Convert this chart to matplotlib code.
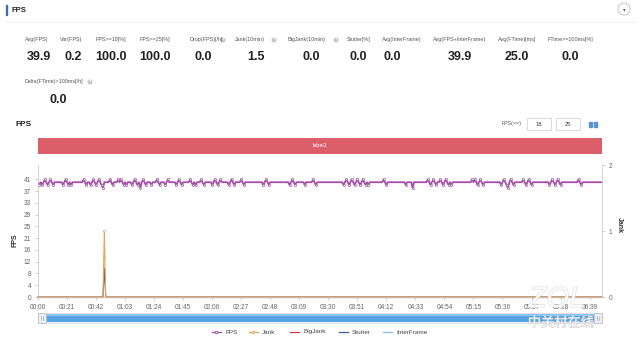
import numpy as np
import matplotlib.pyplot as plt
from matplotlib.patches import Rectangle, Circle
import matplotlib.patheffects as pe

plt.rcParams['font.family'] = ['Liberation Sans', 'DejaVu Sans']

W, H = 640, 340

# ---- summary numbers ----
stat_names = ['Avg(FPS)', 'Var(FPS)', 'FPS>=18[%]', 'FPS>=25[%]', 'Drop(FPS)[/h]',
              'Jank(10min)', 'BigJank(10min)', 'Stutter[%]', 'Avg(InterFrame)',
              'Avg(FPS+InterFrame)', 'Avg(FTime)[ms]', 'FTime>=100ms[%]']
stat_values = ['39.9', '0.2', '100.0', '100.0', '0.0', '1.5', '0.0', '0.0', '0.0',
               '39.9', '25.0', '0.0']
extra_name = 'Delta(FTime)>100ms[/h]'
extra_value = '0.0'

# ---- FPS per second: '-'=40, 'u'=41, 'd'=39, 'D'=38 ----
fps_levels = {'-': 40, 'u': 41, 'd': 39, 'D': 38}
fps_pattern = [
    "-d-d-u-d-u-d------d-u",
    "-d-d--------u-d--d-u-",
    "d-u-dD----u-d---u-u-d",
    "-d---d-u-d-D-u-d---d-",
    "--u-d---d-u-----d-u-d",
    "-----u-d-d---u-d-----",
    "d-u-d-u-----d-u-d----",
    "u-d-------------d-u-d",
    "--------------d-u-d--",
    "----d-----u-d--------",
    "-----------d-u-d-u-d-",
    "u-d-u-d-d----------u-",
    "d-------------d----D-",
    "---------u-d-u-d--u-d",
    "-u-d-d--------------u",
    "-u-d-u-d------------d",
    "-u-dD-u-d------u-d-u-",
    "d------------d-u-d-u-",
    "d------------u-d-----",
    "----------",
]
jank_at = 48          # seconds
jank_value = 1        # right axis
stutter_value = 10    # left axis, same moment

series_names = ['FPS', 'Jank', 'BigJank', 'Stutter', 'InterFrame']
series_colors = ['#a44ea9', '#e5a35e', '#c9393f', '#3c5f93', '#86bde3']

y_labels = ['0', '4', '8', '12', '16', '21', '25', '29', '33', '37', '41']
x_labels = ['00:00', '00:21', '00:42', '01:03', '01:24', '01:45', '02:06', '02:27',
            '02:48', '03:09', '03:30', '03:51', '04:12', '04:33', '04:54', '05:15',
            '05:36', '05:57', '06:18', '06:39']

fps = np.array([fps_levels[c] for c in ''.join(fps_pattern)], dtype=float)
t = np.arange(len(fps))
zeros = np.zeros(len(fps))
jank = zeros.copy()
jank[jank_at] = jank_value
stutter = zeros.copy()
stutter[jank_at] = stutter_value

fig = plt.figure(figsize=(6.4, 3.4), dpi=100)
fig.patch.set_facecolor('white')

# ---- main chart ----
ax = fig.add_axes([38 / W, 1 - 297 / H, (602 - 38) / W, (297 - 165) / H])
ax.set_xlim(0, 408)
ax.set_ylim(0, 46)
ax.plot(t, zeros, color=series_colors[2], lw=0.8, clip_on=False)
ax.plot(t, stutter, color=series_colors[3], lw=0.8, clip_on=False)
ax.plot(t, zeros, color=series_colors[4], lw=0.8, clip_on=False)
ax.plot(t, fps, color=series_colors[0], lw=1.3)
off = fps != 40
ax.plot(t[off], fps[off], 'o', ms=1.5, mfc='white', mec=series_colors[0], mew=0.5)

ax.set_yticks([i * 4.1 for i in range(len(y_labels))])
ax.set_yticklabels(y_labels)
ax.set_xticks([i * 21 for i in range(len(x_labels))])
ax.set_xticklabels(x_labels)
ax.tick_params(axis='both', length=2.5, pad=2.5, color='#bbbbbb',
               labelsize=4.7, labelcolor='#666666', width=0.5)
for s in ['top', 'right']:
    ax.spines[s].set_visible(False)
for s in ['left', 'bottom']:
    ax.spines[s].set_color('#cccccc')
    ax.spines[s].set_linewidth(0.6)

ax2 = ax.twinx()
ax2.set_ylim(0, 2)
ax2.set_yticks([0, 1, 2])
ax2.plot(t, jank, color=series_colors[1], lw=0.8, clip_on=False)
ax2.plot([jank_at], [jank_value], 'o', ms=1.6, mfc='white', mec=series_colors[1], mew=0.5)
ax2.tick_params(axis='y', length=2.5, pad=2.5, color='#bbbbbb',
                labelsize=4.7, labelcolor='#666666', width=0.5)
for s in ['top', 'left', 'bottom']:
    ax2.spines[s].set_visible(False)
ax2.spines['right'].set_color('#cccccc')
ax2.spines['right'].set_linewidth(0.6)

# ---- overlay in pixel coordinates ----
ov = fig.add_axes([0, 0, 1, 1])
ov.set_xlim(0, W)
ov.set_ylim(H, 0)
ov.axis('off')
ov.set_zorder(10)
ov.patch.set_alpha(0)

# header
ov.add_patch(Rectangle((6, 5), 1.4, 10, color='#3d6db5'))
ov.text(11, 10, 'FPS', fontsize=5.5, weight='bold', va='center', color='#222222')
ov.plot([5, 635], [22, 22], color='#eeeeee', lw=0.6)
ov.add_patch(Circle((624, 9), 6, fc='white', ec='#bbbbbb', lw=0.6))
ov.text(624, 9.5, '▾', fontsize=4, ha='center', va='center', color='#666666')

label_x = [24.5, 60, 95, 139, 189, 235, 288, 347, 382, 433, 498, 547]
value_x = [39, 73, 111, 155, 203.5, 256, 311, 358, 392, 460, 517, 570]
for name, lx in zip(stat_names, label_x):
    ov.text(lx, 40, name, fontsize=3.9, color='#555555', va='center')
for val, vx in zip(stat_values, value_x):
    ov.text(vx, 57, val, fontsize=9, weight='bold', ha='center', va='center', color='#222222')


def qmark(x, y):
    ov.add_patch(Circle((x, y), 2.5, fc='#c4c4c4', ec='none'))
    ov.text(x, y + 0.2, '?', fontsize=2.8, color='white', ha='center', va='center', weight='bold')


for ix in [223, 274, 336]:
    qmark(ix, 40)

ov.text(24.5, 82, extra_name, fontsize=3.9, color='#555555', va='center')
qmark(90, 82)
ov.text(58, 100, extra_value, fontsize=9, weight='bold', ha='center', va='center', color='#222222')

# chart title and threshold inputs
ov.text(15, 124, 'FPS', fontsize=6, weight='bold', va='center', color='#222222')
ov.text(521, 124, 'FPS(>=)', fontsize=3.8, ha='right', va='center', color='#555555')
for bx, txt in [(527, '18'), (556, '25')]:
    ov.add_patch(Rectangle((bx, 118), 24, 12, fc='white', ec='#cccccc', lw=0.5))
    ov.text(bx + 12, 124, txt, fontsize=4.2, ha='center', va='center', color='#444444')
ov.add_patch(Rectangle((589, 121.5), 3, 5, color='#5b8fd6'))
ov.add_patch(Rectangle((594, 121.5), 3, 5, color='#5b8fd6'))

# label bar
ov.add_patch(Rectangle((38, 138), 564, 15.5, fc='#dc5e6b', ec='none'))
ov.text(320, 145.8, 'label1', fontsize=4, ha='center', va='center', color='white')

# axis titles
ov.text(15, 240, 'FPS', rotation=90, fontsize=5, weight='bold', ha='center', va='center', color='#333333')
ov.text(619, 225, 'Jank', rotation=-90, fontsize=5, weight='bold', ha='center', va='center', color='#333333')

# zoom slider
ov.add_patch(Rectangle((38, 313), 564, 9.5, fc='#f2f4f7', ec='#d3d7dc', lw=0.5))
ov.add_patch(Rectangle((46, 313.5), 548, 8.5, fc='#56a6e7', ec='none'))
ov.add_patch(Rectangle((46, 313.5), 548, 2.2, fc='#8dc5f0', ec='none'))
for hx in [38, 594]:
    ov.add_patch(Rectangle((hx, 312.5), 8, 10.5, fc='#eceef1', ec='#b5b9bf', lw=0.5))
    for gx in [hx + 3, hx + 5]:
        ov.plot([gx, gx], [315.5, 320], color='#999999', lw=0.4)

# legend
leg_x = [212, 249, 290, 339, 383]
for name, col, lx in zip(series_names, series_colors, leg_x):
    ov.plot([lx, lx + 8.5], [332, 332], color=col, lw=0.9)
    if name in ('FPS', 'Jank'):
        ov.plot([lx + 4.25], [332], 'o', ms=1.8, mfc='white', mec=col, mew=0.6)
    ov.text(lx + 13, 332, name, fontsize=4.6, va='center', color='#444444')

# watermark
ov.text(557, 299, 'ZOL', fontsize=21, style='italic', ha='center', va='center',
        color='white', alpha=0.75,
        path_effects=[pe.withStroke(linewidth=0.8, foreground='#d2d2d2')])
ov.text(561, 323, '中关村在线', fontsize=9.5, ha='center', va='center', color='white', alpha=0.8,
        family=['Noto Sans CJK SC', 'DejaVu Sans'],
        path_effects=[pe.withStroke(linewidth=0.7, foreground='#c0c0c0')])

fig.savefig('out.png', dpi=100, facecolor='white')
